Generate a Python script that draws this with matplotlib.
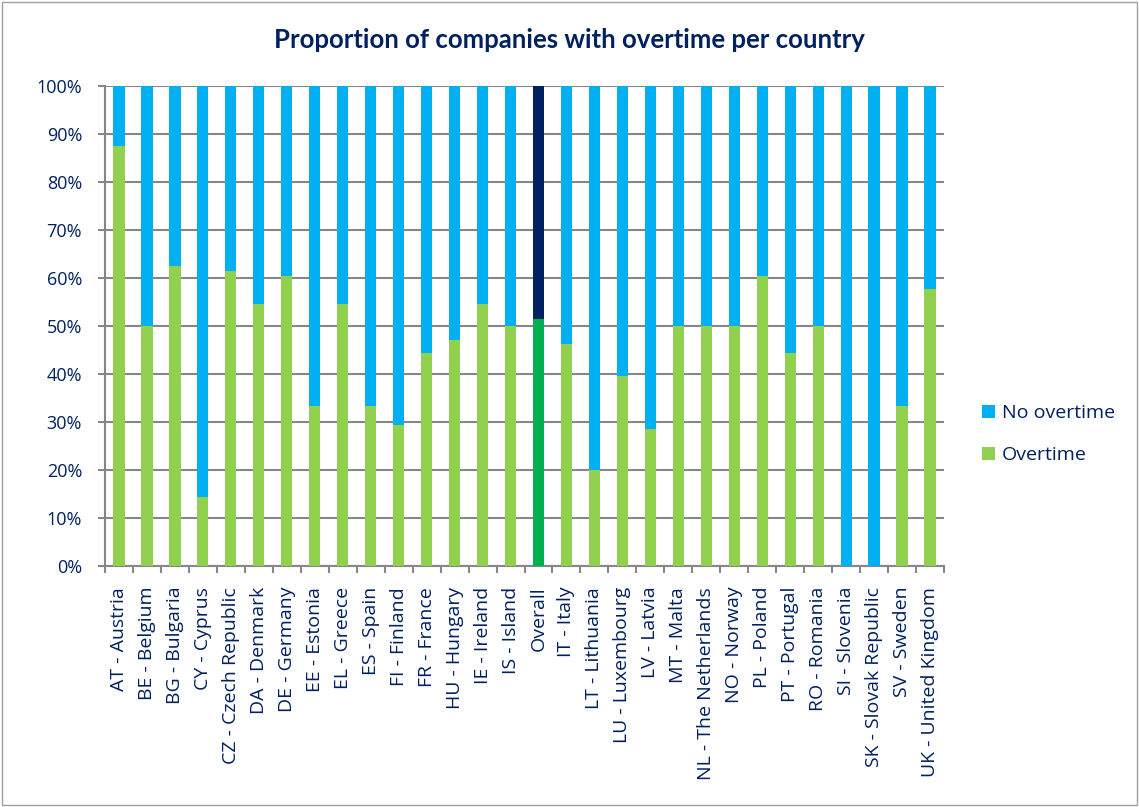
import matplotlib
matplotlib.use("Agg")
import matplotlib.pyplot as plt
from matplotlib.patches import Rectangle
from matplotlib.ticker import FixedLocator, PercentFormatter
import numpy as np

categories = ["AT - Austria", "BE - Belgium", "BG - Bulgaria", "CY - Cyprus",
              "CZ - Czech Republic", "DA - Denmark", "DE - Germany", "EE - Estonia",
              "EL - Greece", "ES - Spain", "FI - Finland", "FR - France",
              "HU - Hungary", "IE - Ireland", "IS - Island", "Overall",
              "IT - Italy", "LT - Lithuania", "LU - Luxembourg", "LV - Latvia",
              "MT - Malta", "NL - The Netherlands", "NO - Norway", "PL - Poland",
              "PT - Portugal", "RO - Romania", "SI - Slovenia", "SK - Slovak Republic",
              "SV - Sweden", "UK - United Kingdom"]
overtime = [87.5, 50.0, 62.5, 14.3, 61.5, 54.5, 60.5, 33.3, 54.5, 33.3,
            29.4, 44.4, 47.1, 54.5, 50.0, 51.5, 46.2, 20.0, 39.5, 28.5,
            50.0, 50.0, 50.0, 60.5, 44.4, 50.0, 0.0, 0.0, 33.3, 57.7]
no_overtime = [100 - v for v in overtime]
highlight = "Overall"

text_col = "#002060"
green = "#92D050"
blue = "#00B0F0"
green_hl = "#00B050"
blue_hl = "#002060"
grid_col = "#878787"

plt.rcParams['font.family'] = ['Open Sans', 'DejaVu Sans']

fig = plt.figure(figsize=(11.39, 8.07), dpi=100)
ax = fig.add_axes([0.0922, 0.2986, 0.7366, 0.5948])

x = np.arange(len(categories))
gcols = [green_hl if c == highlight else green for c in categories]
bcols = [blue_hl if c == highlight else blue for c in categories]
ax.bar(x, overtime, width=0.4, color=gcols, label="Overtime", zorder=3)
ax.bar(x, no_overtime, width=0.4, bottom=overtime, color=bcols, label="No overtime", zorder=3)

ax.set_xlim(-0.5, len(categories) - 0.5)
ax.set_ylim(0, 100)
ax.yaxis.set_major_locator(FixedLocator(np.arange(0, 101, 10)))
ax.yaxis.set_major_formatter(PercentFormatter(decimals=0))
ax.grid(axis='y', color=grid_col, linewidth=1.5, zorder=0)
for s in ['top', 'right']:
    ax.spines[s].set_visible(False)
for s in ['left', 'bottom']:
    ax.spines[s].set_color(grid_col)
    ax.spines[s].set_linewidth(1.5)

ax.set_xticks(x)
ax.set_xticklabels(categories, rotation=90, fontsize=14, color=text_col)
ax.tick_params(axis='x', length=0, pad=15)
ax.set_xticks(np.arange(-0.5, len(categories), 1), minor=True)
ax.tick_params(axis='x', which='minor', length=5, width=1.5, color=grid_col, direction='out')
ax.tick_params(axis='y', length=5, width=1.5, color=grid_col, labelsize=13,
               labelcolor=text_col, pad=11.5)

fig.text(0.5, 0.951, "Proportion of companies with overtime per country",
         ha='center', va='center', fontsize=18.5, fontweight='bold', color=text_col,
         family=['Lato', 'DejaVu Sans'])

handles, labels = ax.get_legend_handles_labels()
leg = fig.legend(handles[::-1], labels[::-1], loc='center left',
                 bbox_to_anchor=(0.847, 0.462), frameon=False, fontsize=14,
                 handlelength=0.65, handleheight=0.65, labelspacing=1.25,
                 handletextpad=0.35)
for t in leg.get_texts():
    t.set_color(text_col)

fig.patches.append(Rectangle((0.002, 0.002), 0.996, 0.996, transform=fig.transFigure,
                             fill=False, edgecolor="#A0A0A0", linewidth=1))

fig.savefig("out.png", dpi=100)
